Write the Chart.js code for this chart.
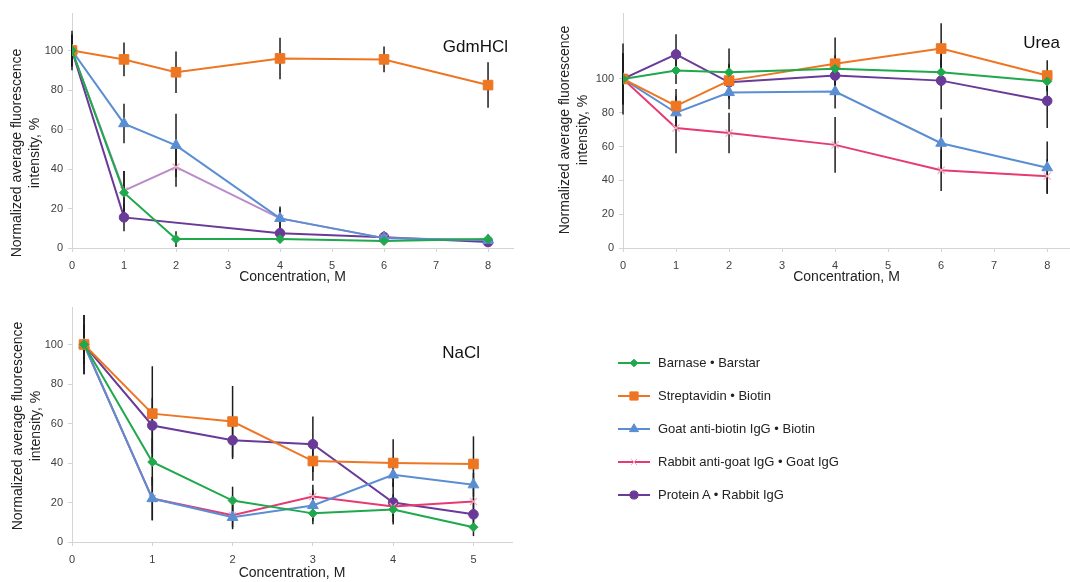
<!DOCTYPE html>
<html>
<head>
<meta charset="utf-8">
<script src="https://cdn.jsdelivr.net/npm/chart.js@4.4.1/dist/chart.umd.min.js"></script>
<style>
  body { margin: 0; background: #fff; font-family: "Liberation Sans", Arial, sans-serif; }
  #wrap { position: relative; width: 1070px; height: 582px; overflow: hidden; }
  canvas.panel { position: absolute; }
  #legend { position: absolute; left: 618px; top: 346px; }
  .row { display: flex; align-items: center; height: 33px; font-size: 13px; color: #222; }
  .row canvas { margin-right: 8px; }
</style>
</head>
<body>
<div id="wrap">
  <canvas id="gdm" class="panel" width="540" height="290" style="left:0;top:0"></canvas>
  <canvas id="urea" class="panel" width="530" height="290" style="left:540px;top:0"></canvas>
  <canvas id="nacl" class="panel" width="540" height="292" style="left:0;top:290px"></canvas>
  <div id="legend"></div>
</div>
<script>
const seriesNames = ['Barnase • Barstar', 'Streptavidin • Biotin', 'Goat anti-biotin IgG • Biotin',
  'Rabbit anti-goat IgG • Goat IgG', 'Protein A • Rabbit IgG'];
const seriesColors = ['#1fa84c', '#ee7623', '#5a8ed2', '#e63a72', '#6a3a98'];
const markerStyles = ['rectRot', 'rect', 'triangle', 'crossRot', 'circle'];
const markerSizes = [4.5, 6.8, 6.2, 5, 4.8];
const yTitleLines = ['Normalized average fluorescence', 'intensity, %'];

// GdmHCl
const gdmConc = [0, 1, 2, 4, 6, 8];
const gdmBarnase = [100, 28, 4.5, 4.5, 3.5, 4.5];
const gdmStrept = [100, 95.5, 89, 96, 95.5, 82.5];
const gdmGoat = [100, 63, 52, 15, 5, 4];
const gdmRabbit = [100, 29, 41, 15, 5, 4];
const gdmProtA = [100, 15.5, null, 7.5, 5.5, 3];
const gdmBarnaseErr = [8, 11, 4, 2, 2, 1.5];
const gdmStreptErr = [10, 8.5, 10.5, 10.5, 6.5, 11.5];
const gdmGoatErr = [8, 10, 16, 6, 2, 1];
const gdmRabbitErr = [8, 10, 10, 5, 2, 1];
const gdmProtAErr = [8, 7, null, 2, 3, 2];

// Urea
const ureaConc = [0, 1, 2, 4, 6, 8];
const ureaBarnase = [100, 105, 104, 106, 104, 98.5];
const ureaStrept = [100, 84, 99, 109, 118, 102];
const ureaGoat = [100, 80, 92, 92.5, 62, 47.5];
const ureaRabbit = [100, 71, 68, 61, 46, 42.5];
const ureaProtA = [100, 114.5, 98, 102, 99, 87];
const ureaBarnaseErr = [21, 8, 14, 8, 8, 6];
const ureaStreptErr = [15, 10, 10, 15.5, 15, 9];
const ureaGoatErr = [15, 10, 10, 10, 15, 15.5];
const ureaRabbitErr = [15, 15, 12, 16.5, 12.3, 10];
const ureaProtAErr = [15, 12, 10, 10, 17, 16];

// NaCl
const naclConc = [0.15, 1, 2, 3, 4, 5];
const naclBarnase = [100, 40.5, 21, 14.5, 16.5, 7.5];
const naclStrept = [100, 65, 61, 41, 40, 39.5];
const naclGoat = [100, 22, 12.5, 18.5, 34, 29];
const naclRabbit = [100, 22, 13.5, 23, 18, 20.5];
const naclProtA = [100, 59, 51.5, 49.5, 20, 14];
const naclBarnaseErr = [15, 12, 7, 5.5, 7.7, 4.5];
const naclStreptErr = [15, 24, 18, 10, 12, 14];
const naclGoatErr = [10, 11, 6, 8, 6, 6];
const naclRabbitErr = [10, 11, 6, 6, 5, 5];
const naclProtAErr = [10, 14, 9.5, 14, 10, 8];

const yTicks = [0, 20, 40, 60, 80, 100];

function makeDatasets(xs, lists, errs, colors) {
  return lists.map((ys, k) => ({
    label: seriesNames[k],
    data: xs.map((x, i) => ({ x, y: ys[i] })),
    errors: errs[k],
    borderColor: colors[k],
    backgroundColor: colors[k],
    pointBackgroundColor: colors[k],
    pointBorderColor: k === 3 ? '#f3a9c0' : colors[k],
    pointBorderWidth: k === 3 ? 1.2 : 1,
    pointStyle: markerStyles[k],
    pointRadius: markerSizes[k],
    borderWidth: 2,
    spanGaps: true
  }));
}

const errorBars = {
  id: 'errorBars',
  beforeDatasetsDraw(chart) {
    const { ctx, scales: { x, y } } = chart;
    ctx.save();
    ctx.strokeStyle = '#1c1c1c';
    ctx.lineWidth = 1.5;
    chart.data.datasets.forEach(ds => {
      ds.data.forEach((p, i) => {
        const e = ds.errors[i];
        if (p.y == null || e == null) return;
        const px = x.getPixelForValue(p.x);
        ctx.beginPath();
        ctx.moveTo(px, y.getPixelForValue(p.y - e));
        ctx.lineTo(px, y.getPixelForValue(p.y + e));
        ctx.stroke();
      });
    });
    ctx.restore();
  }
};

// panel name in the upper right corner, and the two-line y title
const panelText = {
  id: 'panelText',
  afterDraw(chart, args, opts) {
    const { ctx, chartArea } = chart;
    ctx.save();
    ctx.font = '17px "Liberation Sans", Arial, sans-serif';
    ctx.fillStyle = '#111';
    ctx.textAlign = 'right';
    ctx.textBaseline = 'middle';
    ctx.fillText(opts.text, chartArea.right - opts.dx, chartArea.top + opts.dy);

    ctx.font = '14px "Liberation Sans", Arial, sans-serif';
    ctx.fillStyle = '#222';
    ctx.textAlign = 'center';
    ctx.translate(opts.titleX, opts.titleY);
    ctx.rotate(-Math.PI / 2);
    yTitleLines.forEach((line, i) => ctx.fillText(line, 0, i * 18));
    ctx.restore();
  }
};

function makeChart(id, cfg) {
  const axisColor = '#d4d4d4';
  return new Chart(document.getElementById(id), {
    type: 'line',
    data: { datasets: makeDatasets(cfg.conc, cfg.lists, cfg.errs, cfg.colors) },
    options: {
      responsive: false,
      animation: false,
      layout: { padding: cfg.padding, autoPadding: false },
      plugins: {
        legend: { display: false },
        tooltip: { enabled: false },
        panelText: cfg.label
      },
      scales: {
        x: {
          type: 'linear',
          min: 0,
          max: cfg.xMax,
          afterBuildTicks: (axis) => {
            axis.ticks = cfg.xTicks.map(v => ({ value: v }));
          },
          afterFit: (s) => { s.height = cfg.xHeight; s.paddingRight = 0; },
          ticks: { color: '#404040', font: { size: 11 }, padding: 7, maxRotation: 0, autoSkip: false },
          grid: { drawOnChartArea: false, color: axisColor, tickLength: 4 },
          border: { color: axisColor, width: 1 },
          title: { display: true, text: 'Concentration, M', color: '#222', font: { size: 14 }, padding: 0 }
        },
        y: {
          min: 0,
          max: cfg.yMax,
          afterBuildTicks: (axis) => {
            axis.ticks = yTicks.map(v => ({ value: v }));
          },
          afterFit: (s) => { s.width = cfg.yWidth; },
          ticks: { color: '#404040', font: { size: 11 }, padding: 5 },
          grid: { drawOnChartArea: false, color: axisColor, tickLength: 4 },
          border: { color: axisColor, width: 1 }
        }
      }
    },
    plugins: [errorBars, panelText]
  });
}

Chart.defaults.font.family = '"Liberation Sans", Arial, sans-serif';

const gdmColors = seriesColors.slice();
gdmColors[3] = '#b98bc8';

makeChart('gdm', {
  conc: gdmConc,
  lists: [gdmBarnase, gdmStrept, gdmGoat, gdmRabbit, gdmProtA],
  errs: [gdmBarnaseErr, gdmStreptErr, gdmGoatErr, gdmRabbitErr, gdmProtAErr],
  colors: gdmColors,
  padding: { left: 4, top: 13, right: 27, bottom: 4 },
  xMax: 8.48, xTicks: [0, 1, 2, 3, 4, 5, 6, 7, 8], yMax: 119, xHeight: 38, yWidth: 68,
  label: { text: 'GdmHCl', dx: 5, dy: 34, titleX: 17, titleY: 153 }
});

makeChart('urea', {
  conc: ureaConc,
  lists: [ureaBarnase, ureaStrept, ureaGoat, ureaRabbit, ureaProtA],
  errs: [ureaBarnaseErr, ureaStreptErr, ureaGoatErr, ureaRabbitErr, ureaProtAErr],
  colors: seriesColors,
  padding: { left: 4, top: 13, right: 0, bottom: 4 },
  xMax: 8.43, xTicks: [0, 1, 2, 3, 4, 5, 6, 7, 8], yMax: 139, xHeight: 38, yWidth: 79,
  label: { text: 'Urea', dx: 10, dy: 30, titleX: 25, titleY: 130 }
});

makeChart('nacl', {
  conc: naclConc,
  lists: [naclBarnase, naclStrept, naclGoat, naclRabbit, naclProtA],
  errs: [naclBarnaseErr, naclStreptErr, naclGoatErr, naclRabbitErr, naclProtAErr],
  colors: seriesColors,
  padding: { left: 4, top: 17, right: 28, bottom: 0 },
  xMax: 5.48, xTicks: [0, 1, 2, 3, 4, 5], yMax: 119, xHeight: 40, yWidth: 68,
  label: { text: 'NaCl', dx: 32, dy: 46, titleX: 18, titleY: 136 }
});

// legend: line with marker, drawn with Chart.js point helper
const legend = document.getElementById('legend');
seriesNames.forEach((name, k) => {
  const row = document.createElement('div');
  row.className = 'row';
  const c = document.createElement('canvas');
  c.width = 32; c.height = 16;
  const ctx = c.getContext('2d');
  ctx.strokeStyle = seriesColors[k];
  ctx.lineWidth = 2;
  ctx.beginPath(); ctx.moveTo(0, 8); ctx.lineTo(32, 8); ctx.stroke();
  ctx.fillStyle = seriesColors[k];
  ctx.strokeStyle = k === 3 ? '#f3a9c0' : seriesColors[k];
  ctx.lineWidth = 1;
  Chart.helpers.drawPoint(ctx, { pointStyle: markerStyles[k], radius: markerSizes[k] * 0.85, borderWidth: 1 }, 16, 8);
  const span = document.createElement('span');
  span.textContent = name;
  row.appendChild(c);
  row.appendChild(span);
  legend.appendChild(row);
});
</script>
</body>
</html>
